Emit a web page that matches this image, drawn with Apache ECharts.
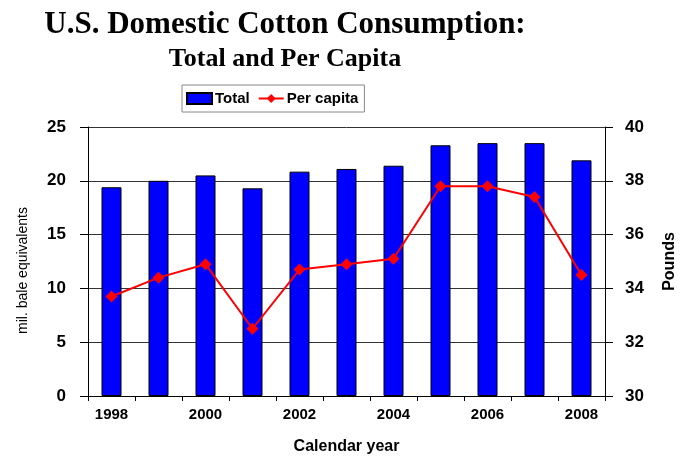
<!DOCTYPE html>
<html><head><meta charset="utf-8">
<script src="https://cdn.jsdelivr.net/npm/echarts@6/dist/echarts.min.js"></script>
<style>html,body{margin:0;padding:0;background:#fff}#c{width:683px;height:456px}</style>
</head><body><div id="c"></div>
<script>
const years = ['1998','1999','2000','2001','2002','2003','2004','2005','2006','2007','2008'];
const totalMilBales = [19.4, 20.0, 20.5, 19.3, 20.85, 21.1, 21.4, 23.3, 23.5, 23.5, 21.9];
const perCapitaPounds = [33.7, 34.4, 34.9, 32.5, 34.7, 34.9, 35.1, 37.8, 37.8, 37.4, 34.5];

const chart = echarts.init(document.getElementById('c'), null, {renderer: 'canvas'});
const sans = 'Liberation Sans, Arial, sans-serif';
chart.setOption({
  animation: false,
  backgroundColor: '#fff',
  title: [
    {text: 'U.S. Domestic Cotton Consumption:', left: 280, top: 4, textAlign: 'center',
     textStyle: {fontFamily: 'Liberation Serif, Times New Roman, serif', fontWeight: 'bold', fontSize: 31, color: '#000'}},
    {text: 'Total and Per Capita', left: 280, top: 41, textAlign: 'center',
     textStyle: {fontFamily: 'Liberation Serif, Times New Roman, serif', fontWeight: 'bold', fontSize: 26, color: '#000'}}
  ],
  legend: {
    left: 182, top: 85, padding: [6, 6, 6, 4],
    borderColor: '#888', borderWidth: 1,
    itemWidth: 25, itemHeight: 11, itemGap: 8,
    textStyle: {fontFamily: sans, fontWeight: 'bold', fontSize: 15, color: '#000', padding: [0,0,0,-2]},
    data: [{name: 'Total', icon: 'rect'}, {name: 'Per capita'}]
  },
  grid: {left: 88, right: 78, top: 127, bottom: 60, outerBoundsMode: 'none', containLabel: false},
  xAxis: {
    type: 'category', data: years, boundaryGap: true,
    name: 'Calendar year', nameLocation: 'middle', nameGap: 43,
    nameTextStyle: {fontFamily: sans, fontWeight: 'bold', fontSize: 16, color: '#000'},
    axisLine: {lineStyle: {color: '#000', width: 1}},
    axisTick: {show: true, interval: 0, length: 5, lineStyle: {color: '#000'}},
    axisLabel: {interval: 1, fontFamily: sans, fontWeight: 'bold', fontSize: 15, color: '#000', margin: 11}
  },
  yAxis: [
    {type: 'value', min: 0, max: 25, interval: 5, position: 'left',
     name: 'mil. bale equivalents', nameLocation: 'middle', nameGap: 58, nameRotate: 90,
     nameTextStyle: {fontFamily: sans, fontSize: 14, color: '#000', padding: [0, 18, 0, 0]},
     axisLine: {show: true, lineStyle: {color: '#000'}},
     axisTick: {show: true, length: 8, lineStyle: {color: '#000'}},
     axisLabel: {fontFamily: sans, fontWeight: 'bold', fontSize: 17, color: '#000', margin: 22},
     splitLine: {show: true, lineStyle: {color: '#333', width: 1}}},
    {type: 'value', min: 30, max: 40, interval: 2, position: 'right',
     name: 'Pounds', nameLocation: 'middle', nameGap: 57, nameRotate: 90,
     nameTextStyle: {fontFamily: sans, fontWeight: 'bold', fontSize: 16, color: '#000'},
     axisLine: {show: true, lineStyle: {color: '#000'}},
     axisTick: {show: true, length: 8, lineStyle: {color: '#000'}},
     axisLabel: {fontFamily: sans, fontWeight: 'bold', fontSize: 17, color: '#000', margin: 20},
     splitLine: {show: false}}
  ],
  series: [
    {name: 'Total', type: 'bar', yAxisIndex: 0, data: totalMilBales, barWidth: 20,
     itemStyle: {color: '#0000ff', borderColor: '#000', borderWidth: 1}},
    {name: 'Per capita', type: 'line', yAxisIndex: 1, data: perCapitaPounds,
     symbol: 'diamond', symbolSize: 12, lineStyle: {color: '#ff0000', width: 2},
     itemStyle: {color: '#ff0000'}}
  ]
});
</script></body></html>
